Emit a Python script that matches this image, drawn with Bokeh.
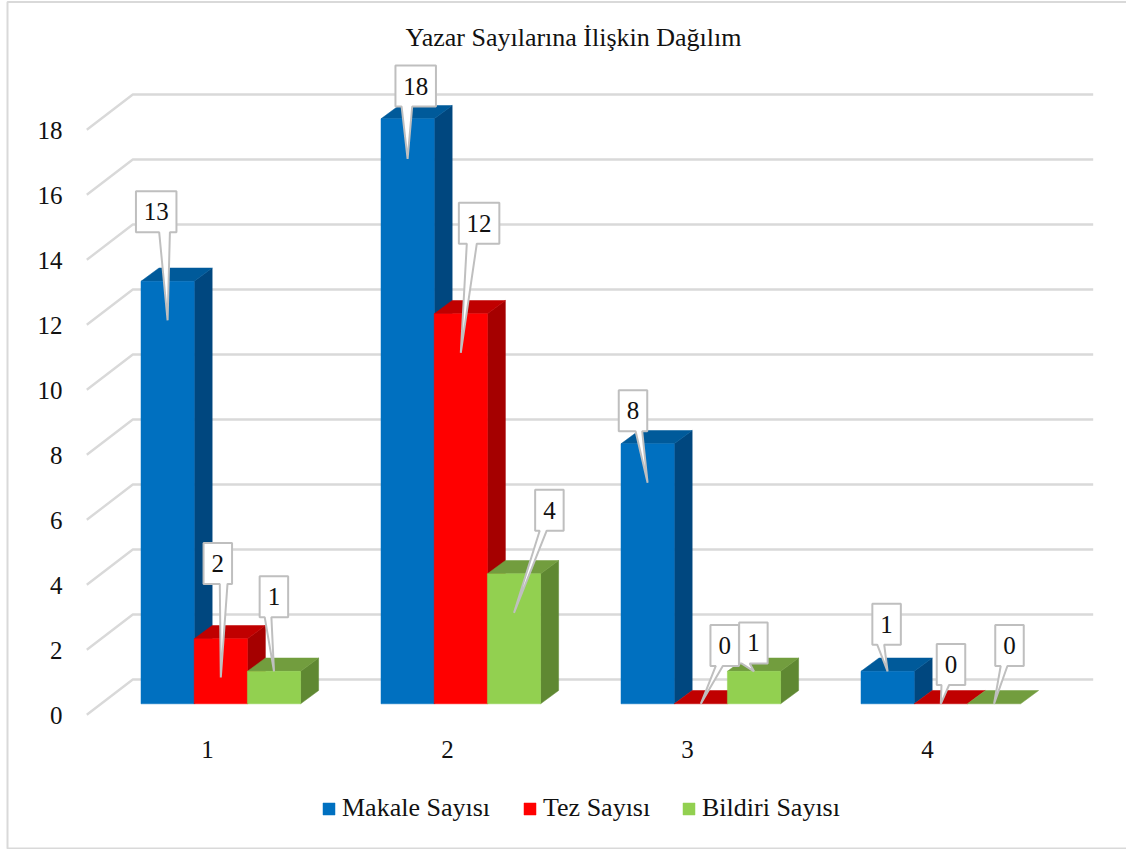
from bokeh.embed import file_html
from bokeh.resources import INLINE
from bokeh.plotting import figure
from bokeh.models import (Range1d, LinearAxis, FixedTicker, Legend, LegendItem,
                          Label)
from bokeh.core.properties import value

# ---- data ----
chart_title = "Yazar Sayılarına İlişkin Dağılım"
categories = [1, 2, 3, 4]
series_names = ["Makale Sayısı", "Tez Sayısı", "Bildiri Sayısı"]
makale = [13, 18, 8, 1]
tez = [2, 12, 0, 0]
bildiri = [1, 4, 1, 0]
y_ticks = [0, 2, 4, 6, 8, 10, 12, 14, 16, 18]

# ---- styles ----
FONT = "Liberation Serif"
FS = "25px"
FS_TXT = "26px"
TXT = "#111111"
GRID = "#D9D9D9"
front_col = ["#0070C0", "#FF0000", "#92D050"]
side_col = ["#00477F", "#A50000", "#5F8832"]
top_col = ["#005A9A", "#C00000", "#729D3E"]

# ---- layout: pixels per data unit and page origin ----
W, H = 1126, 849
PAGE = 0
PX_X = 240.0            # pixels per category
PX_Y = 32.5             # pixels per value unit
X0_PAGE = 207.0         # page x of category 1
Y0_PAGE = 703.3         # page y of value 0 on the bars' front plane
def dx(px): return px / PX_X
def dy(px): return px / PX_Y
def xp(page): return 1 + (page - X0_PAGE) / PX_X
def yp(page): return (Y0_PAGE - page) / PX_Y

BAR_OFF = dx(-66.5)
BAR_W = dx(53.2)
DEPTH_X = dx(18.0)
DEPTH_Y = dy(13.3)

p = figure(width=W, height=H, output_backend="svg", toolbar_location=None,
           x_range=Range1d(xp(PAGE), xp(PAGE + W)),
           y_range=Range1d(yp(PAGE + H), yp(PAGE)),
           x_axis_location=None, y_axis_location=None,
           min_border=0, outline_line_color=None, background_fill_color="white",
           border_fill_color="white")
p.grid.visible = False

# axes, fixed inside the frame
p.extra_y_ranges["front"] = Range1d(yp(PAGE + H) + dy(11.2), yp(PAGE) + dy(11.2))
ya = LinearAxis(y_range_name="front", ticker=FixedTicker(ticks=y_ticks),
                fixed_location=xp(75), axis_line_color=None,
                major_tick_line_color=None, minor_tick_line_color=None,
                major_label_text_font=FONT, major_label_text_font_size=FS,
                major_label_text_color=TXT, major_label_standoff=7)
p.add_layout(ya, "left")
xa = LinearAxis(ticker=FixedTicker(ticks=categories), fixed_location=yp(734),
                axis_line_color=None, major_tick_line_color=None,
                minor_tick_line_color=None, major_label_text_font=FONT,
                major_label_text_font_size=FS, major_label_text_color=TXT,
                major_label_standoff=0)
p.add_layout(xa, "below")

# chart border
p.multi_line([[xp(1126), xp(7), xp(7), xp(1126)]],
             [[yp(1.5), yp(1.5), yp(848), yp(848)]],
             line_color=GRID, line_width=2)

# gridlines with the floor/wall perspective
gx0, gx1, gx2 = xp(86.3), xp(132.3), xp(1092.7)
grid_xs = [[gx0, gx1, gx2] for _ in y_ticks]
grid_ys = [[t - dy(11.0), t + dy(24.3), t + dy(24.3)] for t in y_ticks]
p.multi_line(grid_xs, grid_ys, line_color=GRID, line_width=2.4)

# 3D bars, left to right
series = [makale, tez, bildiri]
legend_rs = []
for g, cat in enumerate(categories):
    for s, vals in enumerate(series):
        v = vals[g]
        l = cat + BAR_OFF + s * BAR_W
        r = l + BAR_W
        if v > 0:
            p.patch([r, r + DEPTH_X, r + DEPTH_X, r],
                    [0, DEPTH_Y, v + DEPTH_Y, v],
                    fill_color=side_col[s], line_color=side_col[s], line_width=0.5)
        p.patch([l, r, r + DEPTH_X, l + DEPTH_X],
                [v, v, v + DEPTH_Y, v + DEPTH_Y],
                fill_color=top_col[s], line_color=top_col[s], line_width=0.5)
        if v > 0:
            q = p.quad(left=[l], right=[r], bottom=[0], top=[v],
                       fill_color=front_col[s], line_color=front_col[s], line_width=0.5)
            if g == 0:
                legend_rs.append(q)

# data callouts: (tip below bar top, box centre dx, box centre dy, base x0, base x1), pixels
callout_layout = {
    (0, 0): (39, -11.4, -69.5, -8.4, 2.3),
    (0, 1): (40, 8.1, -32.8, -6.0, 4.6),
    (0, 2): (39, -14.6, -33.1, -12.0, -5.4),
    (0, 3): (0, -1.0, -47.1, -10.4, -3.4),
    (1, 0): (38.7, -3.0, -75.4, -1.0, 6.7),
    (1, 1): (39, 18.3, -90.6, 6.0, 16.0),
    (1, 2): (0, 23.9, -58.4, 15.0, 22.0),
    (1, 3): (0, 10.2, -39.3, 0.7, 8.3),
    (2, 0): (0, -0.1, -74.6, -9.3, -2.6),
    (2, 1): (39, 35.4, -63.6, 25.7, 32.7),
    (2, 2): (0, -0.6, -28.4, -12.6, -4.3),
    (2, 3): (0, 15.5, -58.3, 6.7, 13.4),
}
BOX_H = 41.0
for s, vals in enumerate(series):
    for g, cat in enumerate(categories):
        v = vals[g]
        tip, cdx, cdy, b0, b1 = callout_layout[(s, g)]
        cx = cat + BAR_OFF + (s + 0.5) * BAR_W
        label = str(v)
        bw = 28.5 + 12 * (len(label) - 1)
        bx, by = cx + dx(cdx), v - dy(cdy)
        xl, xr = bx - dx(bw / 2), bx + dx(bw / 2)
        yb, yt = by - dy(BOX_H / 2), by + dy(BOX_H / 2)
        xs = [xl, xr, xr, cx + dx(b1), cx, cx + dx(b0), xl]
        ys = [yt, yt, yb, yb, v - dy(tip), yb, yb]
        p.patch(xs, ys, fill_color="white", line_color="#BFBFBF", line_width=2)
        p.text([bx], [by], text=[label], text_align="center", text_baseline="middle",
               text_font=value(FONT), text_font_size=FS, text_color=TXT)

# title
p.add_layout(Label(x=xp(573), y=yp(37), text=chart_title, text_align="center",
                   text_baseline="middle", text_font=FONT, text_font_size=FS_TXT,
                   text_color=TXT))

# legend entries, each placed on its own
legend_px = [321, 522, 681]
for name, r, lx in zip(series_names, legend_rs, legend_px):
    lg = Legend(items=[LegendItem(label=name, renderers=[r])],
                location=(lx, 26), orientation="horizontal",
                background_fill_alpha=0, border_line_color=None,
                glyph_width=15, glyph_height=15, label_standoff=6,
                margin=0, padding=0, label_text_font=FONT, label_text_font_size=FS_TXT,
                label_text_color=TXT)
    p.add_layout(lg, "center")

open("out.html", "w").write(file_html(p, INLINE))
